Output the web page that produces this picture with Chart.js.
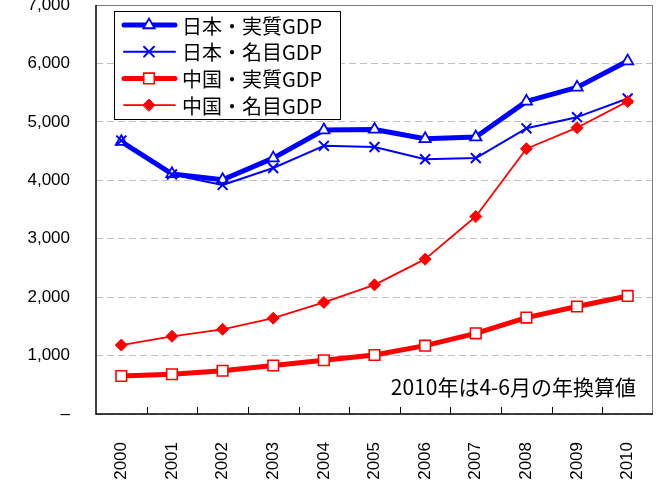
<!DOCTYPE html>
<html>
<head>
<meta charset="utf-8">
<script src="https://cdn.jsdelivr.net/npm/chart.js@4"></script>
<style>
  html, body { margin: 0; padding: 0; background: #fff; }
  canvas { display: block; }
</style>
</head>
<body>
<canvas id="grafica" width="657" height="483"></canvas>
<script>
const years = ["2000", "2001", "2002", "2003", "2004", "2005", "2006", "2007", "2008", "2009", "2010"];
const jpReal = [4660, 4110, 4010, 4380, 4860, 4870, 4710, 4740, 5350, 5590, 6040];
const jpNominal = [4680, 4100, 3920, 4210, 4590, 4570, 4360, 4380, 4890, 5080, 5400];
const cnReal = [650, 680, 740, 830, 920, 1010, 1170, 1380, 1650, 1840, 2020];
const cnNominal = [1180, 1330, 1450, 1640, 1910, 2210, 2650, 3380, 4540, 4900, 5350];
const seriesNames = ["日本・実質GDP", "日本・名目GDP", "中国・実質GDP", "中国・名目GDP"];
const note = "2010年は4-6月の年換算値";

const BLUE = "#0000ff";
const RED = "#ff0000";
const latin = "'Liberation Sans', Arial, sans-serif";
const cjk = "'Noto Sans CJK JP', 'Liberation Sans', sans-serif";

// leyenda, bordes, marcas del eje x y nota
const extras = {
  id: "extras",
  afterDraw(chart) {
    const ctx = chart.ctx;
    const a = chart.chartArea;
    const x = chart.scales.x;
    ctx.save();

    // borde superior y derecho
    ctx.strokeStyle = "#808080";
    ctx.lineWidth = 1;
    ctx.beginPath();
    ctx.moveTo(a.left, a.top + 0.5);
    ctx.lineTo(a.right - 0.5, a.top + 0.5);
    ctx.lineTo(a.right - 0.5, a.bottom);
    ctx.stroke();

    // ejes
    ctx.strokeStyle = "#000";
    ctx.lineWidth = 1.5;
    ctx.beginPath();
    ctx.moveTo(a.left, a.top);
    ctx.lineTo(a.left, a.bottom);
    ctx.lineTo(a.right, a.bottom);
    ctx.stroke();

    // marcas hacia dentro entre categorias
    ctx.lineWidth = 1;
    ctx.beginPath();
    for (let i = 1; i < years.length; i++) {
      const px = Math.round((x.getPixelForTick(i - 1) + x.getPixelForTick(i)) / 2) + 0.5;
      ctx.moveTo(px, a.bottom);
      ctx.lineTo(px, a.bottom - 7);
    }
    ctx.stroke();

    // nota
    ctx.fillStyle = "#000";
    ctx.font = "21px " + cjk;
    ctx.textAlign = "right";
    ctx.textBaseline = "middle";
    ctx.fillText(note, 636, 387);

    // leyenda
    const bx = 114, by = 11, bw = 226, bh = 108;
    ctx.fillStyle = "#fff";
    ctx.fillRect(bx, by, bw, bh);
    ctx.strokeStyle = "#000";
    ctx.lineWidth = 1;
    ctx.strokeRect(bx + 0.5, by + 0.5, bw, bh);

    chart.data.datasets.forEach((ds, i) => {
      const cy = 25 + i * 26.7;
      ctx.strokeStyle = ds.borderColor;
      ctx.lineWidth = ds.borderWidth;
      ctx.lineCap = "round";
      ctx.beginPath();
      ctx.moveTo(124, cy);
      ctx.lineTo(175, cy);
      ctx.stroke();

      ctx.fillStyle = ds.pointBackgroundColor;
      ctx.strokeStyle = ds.pointBorderColor;
      ctx.lineWidth = ds.pointBorderWidth;
      Chart.helpers.drawPoint(ctx, {
        pointStyle: ds.pointStyle,
        radius: ds.pointRadius,
        borderWidth: ds.pointBorderWidth,
        rotation: 0
      }, 149, cy);

      ctx.fillStyle = "#000";
      ctx.font = "20px " + cjk;
      ctx.textAlign = "left";
      ctx.textBaseline = "middle";
      ctx.fillText(ds.label, 182, cy + 1);
    });

    ctx.restore();
  }
};

function sinRelleno(s) {
  s.paddingTop = 0;
  s.paddingBottom = 0;
  s.paddingLeft = 0;
  s.paddingRight = 0;
}

new Chart(document.getElementById("grafica"), {
  type: "line",
  data: {
    labels: years,
    datasets: [
      {
        label: seriesNames[0],
        data: jpReal,
        borderColor: BLUE,
        borderWidth: 5,
        pointStyle: "triangle",
        pointRadius: 6.5,
        pointBackgroundColor: "#fff",
        pointBorderColor: BLUE,
        pointBorderWidth: 1.8,
        order: 4
      },
      {
        label: seriesNames[1],
        data: jpNominal,
        borderColor: BLUE,
        borderWidth: 2,
        pointStyle: "crossRot",
        pointRadius: 7,
        pointBackgroundColor: BLUE,
        pointBorderColor: BLUE,
        pointBorderWidth: 2,
        order: 3
      },
      {
        label: seriesNames[2],
        data: cnReal,
        borderColor: RED,
        borderWidth: 5,
        pointStyle: "rect",
        pointRadius: 7.5,
        pointBackgroundColor: "#fff",
        pointBorderColor: RED,
        pointBorderWidth: 1.6,
        order: 2
      },
      {
        label: seriesNames[3],
        data: cnNominal,
        borderColor: RED,
        borderWidth: 1.8,
        pointStyle: "rectRot",
        pointRadius: 6,
        pointBackgroundColor: RED,
        pointBorderColor: RED,
        pointBorderWidth: 1,
        order: 1
      }
    ]
  },
  options: {
    responsive: false,
    animation: false,
    layout: { autoPadding: false, padding: { top: 5, right: 4, left: 0, bottom: 0 } },
    elements: { line: { tension: 0, borderJoinStyle: "round" } },
    plugins: { legend: { display: false }, tooltip: { enabled: false } },
    scales: {
      x: {
        offset: true,
        grid: { display: false },
        border: { display: false },
        ticks: {
          minRotation: 90,
          maxRotation: 90,
          padding: 20,
          color: "#000",
          font: { family: latin, size: 17 }
        },
        afterFit: s => { s.height = 69; sinRelleno(s); }
      },
      y: {
        min: 0,
        max: 7000,
        grid: { color: "#c0c0c0", lineWidth: 1, drawTicks: false },
        border: { display: false, dash: [7, 4] },
        ticks: {
          stepSize: 1000,
          padding: 26,
          color: "#000",
          font: { family: latin, size: 17 },
          callback: v => v === 0 ? "–" : v.toLocaleString("en-US")
        },
        afterFit: s => { s.width = 96; sinRelleno(s); }
      }
    }
  },
  plugins: [extras]
});
</script>
</body>
</html>
